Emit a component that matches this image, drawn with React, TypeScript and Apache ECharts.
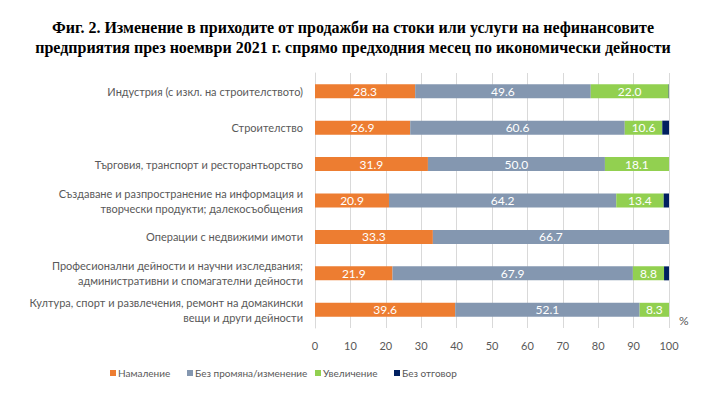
import React, { useEffect, useRef } from "react";
import * as echarts from "echarts";

const categories = [
  "Индустрия (с изкл. на строителството)",
  "Строителство",
  "Търговия, транспорт и ресторантьорство",
  "Създаване и разпространение на информация и\nтворчески продукти; далекосъобщения",
  "Операции с недвижими имоти",
  "Професионални дейности и научни изследвания;\nадминистративни и спомагателни дейности",
  "Култура, спорт и развлечения, ремонт на домакински\nвещи и други дейности",
];
const decrease = [28.3, 26.9, 31.9, 20.9, 33.3, 21.9, 39.6];
const noChange = [49.6, 60.6, 50.0, 64.2, 66.7, 67.9, 52.1];
const increase = [22.0, 10.6, 18.1, 13.4, 0, 8.8, 8.3];
const noAnswer = [0.1, 1.9, 0, 1.5, 0, 1.4, 0];
const seriesNames = ["Намаление", "Без промяна/изменение", "Увеличение", "Без отговор"];
const colors = ["#ED7D31", "#8497B0", "#92D050", "#002060"];
const legendLefts = [105, 182, 310, 389];
const titleText =
  "Фиг. 2. Изменение в приходите от продажби на стоки или услуги на нефинансовите\nпредприятия през ноември 2021 г. спрямо предходния месец по икономически дейности";

export default function App() {
  const ref = useRef<HTMLDivElement>(null);
  useEffect(() => {
    if (!ref.current) return;
    const chart = echarts.init(ref.current, null, { renderer: "svg" });
    const font = "Lato";
    const mk = (name: string, data: number[], color: string, label: boolean) => ({
      name,
      type: "bar",
      stack: "total",
      barWidth: 14,
      data,
      itemStyle: { color },
      label: {
        show: label,
        position: "inside",
        color: "#ffffff",
        fontFamily: font,
        fontSize: 12,
        formatter: (p: any) => (p.value > 0 ? p.value.toFixed(1) : ""),
      },
    });
    chart.setOption({
      animation: false,
      title: {
        text: titleText,
        left: "center",
        top: 12,
        textStyle: {
          fontFamily: "Liberation Serif",
          fontWeight: "bold",
          fontSize: 16,
          lineHeight: 20,
          color: "#000",
        },
      },
      grid: { left: 315, right: 37, top: 73, bottom: 69, containLabel: false },
      legend: seriesNames.map((n, i) => ({
        data: [n],
        left: legendLefts[i],
        top: 363,
        itemWidth: 6,
        itemHeight: 6,
        icon: "rect",
        textStyle: { fontFamily: font, fontSize: 10, color: "#595959", padding: [0, 0, 0, -3] },
      })),
      xAxis: {
        type: "value",
        min: 0,
        max: 100,
        interval: 10,
        axisLine: { show: false },
        axisTick: { show: false },
        splitLine: { show: true, lineStyle: { color: "#D9D9D9", width: 1 } },
        axisLabel: { color: "#595959", fontFamily: font, fontSize: 11, margin: 12 },
      },
      yAxis: {
        type: "category",
        inverse: true,
        data: categories,
        axisLine: { show: true, lineStyle: { color: "#D9D9D9" } },
        axisTick: { show: false },
        axisLabel: {
          color: "#595959",
          fontFamily: font,
          fontSize: 11,
          lineHeight: 15,
          margin: 12,
          align: "right",
        },
      },
      graphic: [
        {
          type: "text",
          left: 679,
          top: 314,
          style: { text: "%", fontFamily: font, fontSize: 12, fill: "#595959" },
        },
      ],
      series: [
        mk(seriesNames[0], decrease, colors[0], true),
        mk(seriesNames[1], noChange, colors[1], true),
        mk(seriesNames[2], increase, colors[2], true),
        mk(seriesNames[3], noAnswer, colors[3], false),
      ],
    });
    return () => chart.dispose();
  }, []);
  return <div ref={ref} style={{ width: 706, height: 397, position: "absolute", left: 0, top: 0 }} />;
}
